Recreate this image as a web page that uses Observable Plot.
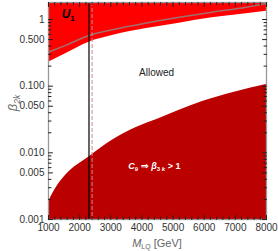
<!DOCTYPE html>
<html><head><meta charset="utf-8">
<script src="https://cdn.jsdelivr.net/npm/d3@7"></script>
<script src="https://cdn.jsdelivr.net/npm/@observablehq/plot@0.6"></script>
<style>body{margin:0;background:#fff} svg{display:block}</style>
</head><body><div id="chart"></div>
<script>
// U1 exclusion boundary (red region above)
const massU1 = [1000, 1550, 2300, 3050, 4100, 5200, 6250, 7350, 8000];
const betaU1 = [0.229, 0.307, 0.457, 0.575, 0.724, 0.881, 1.06, 1.22, 1.33];
// gray curve inside the U1 region
const massGray = [1000, 1550, 2300, 3050, 4100, 5200, 6250, 7350, 8000];
const betaGray = [0.324, 0.41, 0.576, 0.701, 0.88, 1.08, 1.29, 1.53, 1.75];
// C9 => beta3k > 1 boundary (dark red region below)
const massC9 = [1000, 1225, 1550, 2300, 3050, 3800, 4500, 5900, 7000, 8000];
const betaC9 = [0.00183, 0.0029, 0.0046, 0.00865, 0.0154, 0.0238, 0.032, 0.058, 0.082, 0.106];
// vertical lines
const massLimit = 2300;
const massDashed = 2400;
// axes
const xDomain = [1000, 8000];
const yDomain = [0.001, 1.8];
const xTicks = [1000, 2000, 3000, 4000, 5000, 6000, 7000, 8000];
const xTickLabels = ["1000", "2000", "3000", "4000", "5000", "6000", "7000", "8000"];
const yTicks = [0.001, 0.005, 0.01, 0.05, 0.1, 0.5, 1];
const yTickLabels = ["0.001", "0.005", "0.010", "0.050", "0.100", "0.500", "1"];
const xMinor = d3.range(1200, 8000, 200).filter(v => v % 1000 !== 0);
const yMinor = [0.002,0.003,0.004,0.006,0.007,0.008,0.009,0.02,0.03,0.04,0.06,0.07,0.08,0.09,0.2,0.3,0.4,0.6,0.7,0.8,0.9];
// annotation anchors (data coordinates)
const labelU1 = {m: 1440, b: 1.02};
const labelAllowed = {m: 4470, b: 0.157};
const labelC9 = {m: 3580, b: 0.00557};

const u1Data = massU1.map((m, i) => ({m, b: betaU1[i]}));
const grayData = massGray.map((m, i) => ({m, b: betaGray[i]}));
const c9Data = massC9.map((m, i) => ({m, b: betaC9[i]}));
const xTickData = xTicks.map((v, i) => ({v, label: xTickLabels[i]}));
const yTickData = yTicks.map((v, i) => ({v, label: yTickLabels[i]}));

const tickShape = {draw(ctx, l) { ctx.moveTo(0, 0); ctx.lineTo(0, -l); }};
function ticksOn(values, axis, side, len) {
  const o = {length: len, anchor: "start", shape: tickShape, stroke: "#222", strokeWidth: 1};
  if (axis === "x") {
    return Plot.vector(values, {...o, x: d => d, y: () => side === "bottom" ? yDomain[0] : yDomain[1], rotate: side === "bottom" ? 0 : 180});
  }
  return Plot.vector(values, {...o, y: d => d, x: () => side === "left" ? xDomain[0] : xDomain[1], rotate: side === "left" ? 90 : -90});
}

const plot = Plot.plot({
  width: 278, height: 251,
  marginLeft: 48, marginRight: 12, marginTop: 2, marginBottom: 32,
  style: {fontFamily: "'Liberation Sans', Arial, sans-serif", fontSize: "10px", background: "#fff"},
  x: {domain: xDomain, axis: null},
  y: {type: "log", domain: yDomain, axis: null},
  marks: [
    Plot.areaY(u1Data, {x: "m", y1: "b", y2: () => yDomain[1], fill: "#ff0000", curve: "monotone-x"}),
    Plot.areaY(c9Data, {x: "m", y1: () => yDomain[0], y2: "b", fill: "#bb0000", curve: "monotone-x"}),
    Plot.line(grayData, {x: "m", y: "b", stroke: "#a36e6e", strokeWidth: 1.5, curve: "monotone-x", clip: true}),
    Plot.ruleX([massLimit], {stroke: "#000", strokeWidth: 1.2}),
    Plot.ruleX([massDashed], {stroke: "#c98a8a", strokeWidth: 1, strokeDasharray: "4,2"}),
    Plot.text([labelAllowed], {x: "m", y: "b", text: () => "Allowed", fill: "#222", fontSize: 10}),
    Plot.frame({stroke: "#999", strokeWidth: 1.3}),
    ticksOn(xTicks, "x", "bottom", 4), ticksOn(xTicks, "x", "top", 4),
    ticksOn(xMinor, "x", "bottom", 2.5), ticksOn(xMinor, "x", "top", 2.5),
    ticksOn(yTicks, "y", "left", 4), ticksOn(yTicks, "y", "right", 4),
    ticksOn(yMinor, "y", "left", 2.5), ticksOn(yMinor, "y", "right", 2.5),
    Plot.text(xTickData, {x: "v", y: () => yDomain[0], text: "label", fill: "#333", fontSize: 10,
      lineAnchor: "top", dy: 4}),
    Plot.text(yTickData, {y: "v", x: () => xDomain[0], text: "label", fill: "#333", fontSize: 10,
      textAnchor: "end", dx: -4})
  ]
});
document.getElementById("chart").appendChild(plot);

const svg = d3.select(plot);
const sx = plot.scale("x"), sy = plot.scale("y");
const ff = "'Liberation Sans', Arial, sans-serif";

// U1 label
const tU = svg.append("text").attr("x", sx.apply(labelU1.m)).attr("y", sy.apply(labelU1.b))
  .attr("text-anchor", "start").attr("font-family", ff).attr("font-size", 12).attr("font-weight", "bold").attr("fill", "#000");
tU.append("tspan").attr("font-style", "italic").text("U");
tU.append("tspan").attr("font-size", 8).attr("dy", 3).text("1");

// C9 label
const tC = svg.append("text").attr("x", sx.apply(labelC9.m)).attr("y", sy.apply(labelC9.b))
  .attr("text-anchor", "start").attr("font-family", ff).attr("font-size", 9).attr("font-weight", "bold").attr("fill", "#fff");
tC.append("tspan").attr("font-style", "italic").text("C");
tC.append("tspan").attr("font-size", 6).attr("dy", 2).text("9");
tC.append("tspan").attr("dy", -2).text(" \u21D2 ");
tC.append("tspan").attr("font-style", "italic").text("\u03B2");
tC.append("tspan").attr("font-size", 6).attr("dy", 2).text("3 ");
tC.append("tspan").attr("font-size", 6).attr("font-style", "italic").text("k");
tC.append("tspan").attr("dy", -2).text(" > 1");

// y-axis label
const yl = svg.append("text").attr("transform", "translate(17,103) rotate(-90)")
  .attr("text-anchor", "middle").attr("font-family", ff).attr("font-size", 13).attr("fill", "#666");
yl.append("tspan").attr("font-style", "italic").text("\u03B2");
yl.append("tspan").attr("font-size", 8.5).attr("dy", 3).attr("font-style", "italic").text("2k");

// x-axis label
const xl = svg.append("text").attr("x", (sx.range[0] + sx.range[1]) / 2).attr("y", 247)
  .attr("text-anchor", "middle").attr("font-family", ff).attr("font-size", 11).attr("fill", "#666");
xl.append("tspan").attr("font-style", "italic").text("M");
xl.append("tspan").attr("font-size", 7).attr("dy", 2).text("LQ");
xl.append("tspan").attr("dy", -2).text(" [GeV]");
</script></body></html>
